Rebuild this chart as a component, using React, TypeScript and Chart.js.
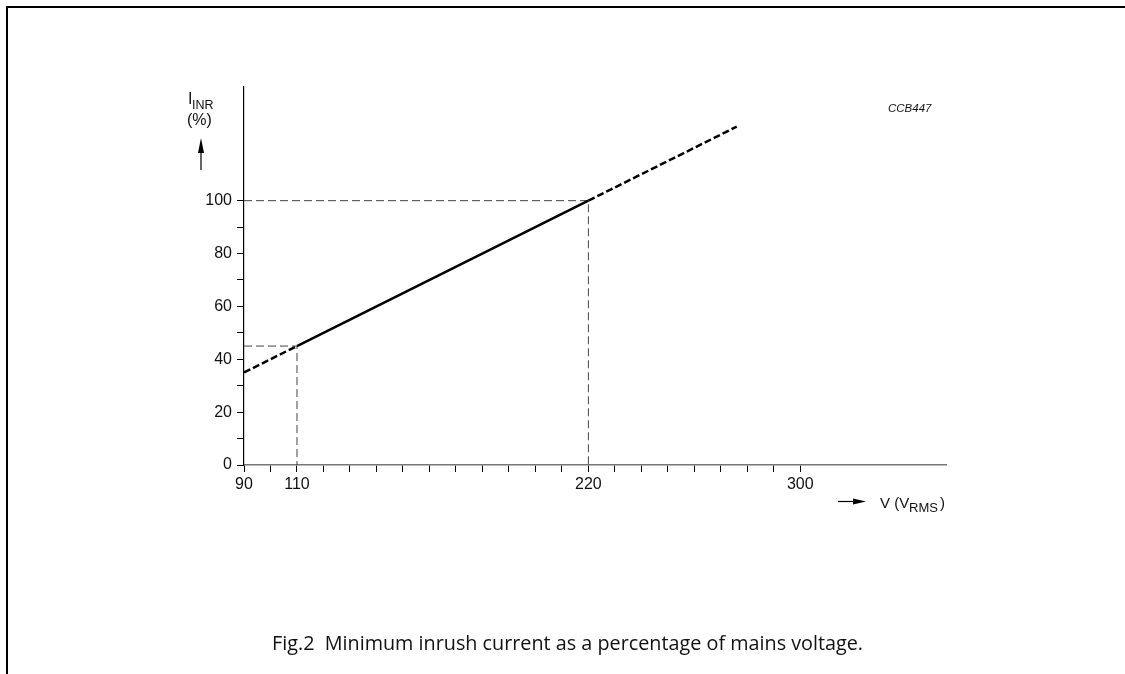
import React, { useEffect, useRef } from 'react';
import { Chart, registerables } from 'chart.js';

Chart.register(...registerables);

// Mains voltage (V RMS) and minimum inrush current (%)
const solidVoltage = [110, 220];
const solidCurrent = [45, 100];
const lowDashVoltage = [90, 110];
const lowDashCurrent = [35, 45];
const highDashVoltage = [220, 276];
const highDashCurrent = [100, 128];

// dashed reference guides
const guide100Voltage = [90, 220, 220];
const guide100Current = [100, 100, 0];
const guide45Voltage = [90, 110, 110];
const guide45Current = [45, 45, 0];

// axes
const xMinorTicks = [90, 100, 110, 120, 130, 140, 150, 160, 170, 180, 190, 200, 210, 220, 230, 240, 250, 260, 270, 280, 290, 300];
const xLabelTicks = [90, 110, 220, 300];
const yMinorTicks = [0, 10, 20, 30, 40, 50, 60, 70, 80, 90, 100];
const yLabelTicks = [0, 20, 40, 60, 80, 100];
const xRange = [90, 355];
const yRange = [0, 143];

const zip = (xs: number[], ys: number[]) => xs.map((x, i) => ({ x, y: ys[i] }));

const FONT = '"Liberation Sans", Arial, sans-serif';

export default function App() {
  const ref = useRef<HTMLCanvasElement>(null);

  useEffect(() => {
    const canvas = ref.current;
    if (!canvas) return;
    const mainLine = { borderColor: '#000', borderWidth: 2.5, pointRadius: 0, fill: false, clip: false as any, tension: 0 };
    const guide = { borderColor: '#444', borderWidth: 1, borderDash: [8, 4], pointRadius: 0, fill: false, clip: false as any, tension: 0 };
    const chart = new Chart(canvas, {
      type: 'line',
      data: {
        datasets: [
          { ...mainLine, label: 'solid', data: zip(solidVoltage, solidCurrent) },
          { ...mainLine, label: 'low', borderDash: [7, 3], data: zip(lowDashVoltage, lowDashCurrent) },
          { ...mainLine, label: 'high', borderDash: [7, 3], data: zip(highDashVoltage, highDashCurrent) },
          { ...guide, label: 'g100', data: zip(guide100Voltage, guide100Current) },
          { ...guide, label: 'g45', data: zip(guide45Voltage, guide45Current) },
        ],
      },
      options: {
        responsive: false,
        animation: false,
        devicePixelRatio: 1,
        layout: { padding: { left: 0, top: 87, right: 179, bottom: 179 } },
        plugins: { legend: { display: false }, tooltip: { enabled: false }, title: { display: false } },
        events: [],
        scales: {
          x: {
            type: 'linear',
            min: xRange[0],
            max: xRange[1],
            afterBuildTicks: (scale: any) => {
              scale.ticks = xMinorTicks.map((v) => ({ value: v }));
            },
            afterFit: (scale: any) => {
              scale.height = 30;
            },
            ticks: {
              autoSkip: false,
              maxRotation: 0,
              padding: 3,
              color: '#111',
              font: { family: FONT, size: 16 },
              callback: (v: any) => (xLabelTicks.includes(Number(v)) ? String(v) : ''),
            },
            grid: { display: true, drawOnChartArea: false, drawTicks: true, tickLength: 7, tickColor: '#000', tickWidth: 1 },
            border: { display: true, color: '#777', width: 1.5 },
          },
          y: {
            type: 'linear',
            min: yRange[0],
            max: yRange[1],
            afterBuildTicks: (scale: any) => {
              scale.ticks = yMinorTicks.map((v) => ({ value: v }));
            },
            afterFit: (scale: any) => {
              scale.width = 244;
            },
            ticks: {
              autoSkip: false,
              padding: 5,
              color: '#111',
              font: { family: FONT, size: 16 },
              callback: (v: any) => (yLabelTicks.includes(Number(v)) ? String(v) : ''),
            },
            grid: { display: true, drawOnChartArea: false, drawTicks: true, tickLength: 7, tickColor: '#000', tickWidth: 1 },
            border: { display: true, color: '#000', width: 1.2 },
          },
        },
      },
    });
    return () => chart.destroy();
  }, []);

  return (
    <div style={{ position: 'fixed', left: 0, top: 0, width: 1125, height: 674, background: '#fff', overflow: 'hidden' }}>
      <canvas ref={ref} width={1125} height={674} style={{ position: 'absolute', left: 0, top: 0, width: 1125, height: 674 }} />
      <svg width={1125} height={674} style={{ position: 'absolute', left: 0, top: 0 }}>
        {/* frame */}
        <line x1={6} y1={7} x2={1125} y2={7} stroke="#000" strokeWidth={2} />
        <line x1={7} y1={6} x2={7} y2={674} stroke="#000" strokeWidth={2} />
        {/* y axis title */}
        <text x={188} y={104} fontFamily={FONT} fontSize={16} fill="#111">I</text>
        <text x={192} y={109} fontFamily={FONT} fontSize={12.5} fill="#111">INR</text>
        <text x={187} y={125} fontFamily={FONT} fontSize={16} fill="#111">(%)</text>
        <line x1={201} y1={150} x2={201} y2={170} stroke="#000" strokeWidth={1.2} />
        <polygon points="198,153 204,153 201,138" fill="#000" />
        {/* x axis title */}
        <line x1={838} y1={501.5} x2={855} y2={501.5} stroke="#000" strokeWidth={1.2} />
        <polygon points="853,498.5 853,504.5 866,501.5" fill="#000" />
        <text x={880} y={508} fontFamily={FONT} fontSize={15} fill="#111">V (V</text>
        <text x={909} y={512} fontFamily={FONT} fontSize={13} fill="#111">RMS</text>
        <text x={940} y={508} fontFamily={FONT} fontSize={15} fill="#111">)</text>
        {/* code */}
        <text x={888} y={112} fontFamily={FONT} fontSize={11.5} fontStyle="italic" fill="#111">CCB447</text>
        {/* caption */}
        <text x={272} y={650} fontFamily={'"Open Sans", sans-serif'} fontSize={19.8} fill="#111">Fig.2{'\u00a0\u00a0'}Minimum inrush current as a percentage of mains voltage.</text>
      </svg>
    </div>
  );
}
